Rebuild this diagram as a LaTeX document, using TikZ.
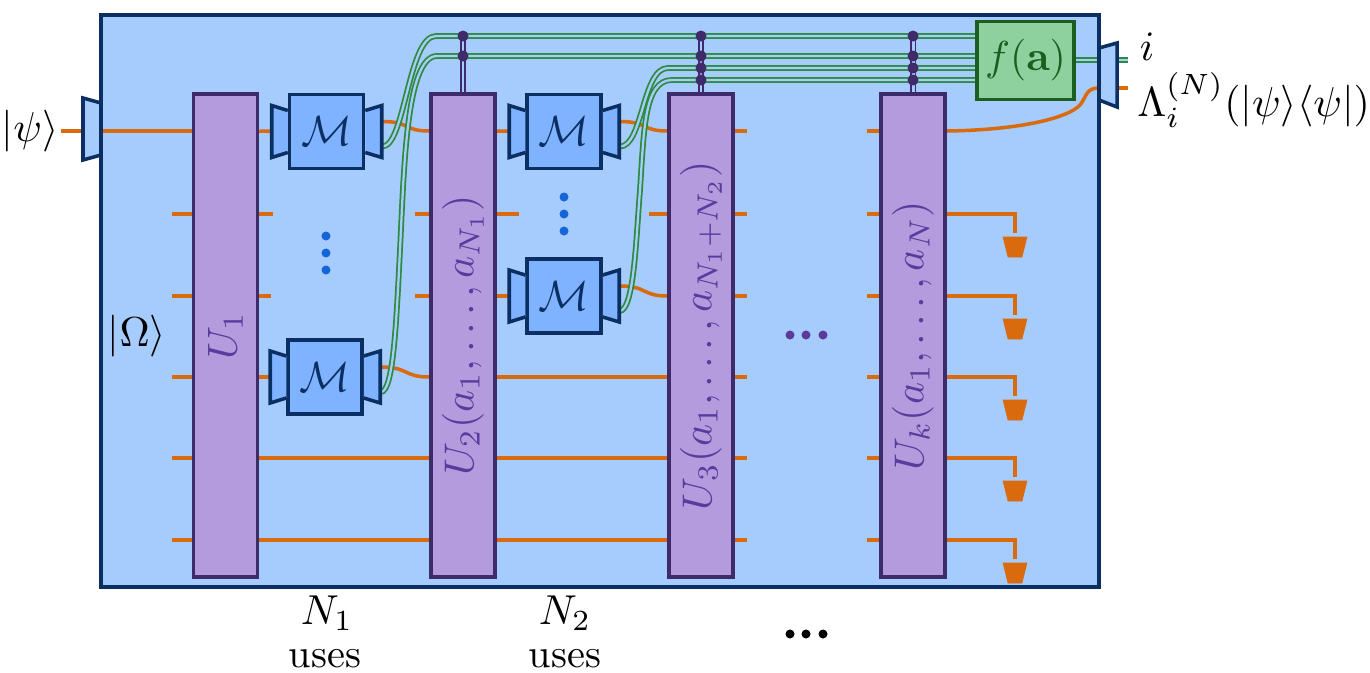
\documentclass[tikz,border=0pt]{standalone}
\usepackage{amsmath}
\usetikzlibrary{calc}
\definecolor{framecol}{HTML}{0B2F63}
\definecolor{framefill}{HTML}{A6CBFD}
\definecolor{measfill}{HTML}{80B3FF}
\definecolor{gatecol}{HTML}{3F2A6B}
\definecolor{gatefill}{HTML}{B39BDD}
\definecolor{gatetext}{HTML}{5B3A9E}
\definecolor{wirecol}{HTML}{D96A0E}
\definecolor{funcol}{HTML}{1B5E20}
\definecolor{funfill}{HTML}{8FD19E}
\definecolor{cwirecol}{HTML}{2E8B3D}
\definecolor{dotcol}{HTML}{1565D8}
\newcommand{\lbl}[1]{\scalebox{2.38}{#1}}
\newcommand{\ulbl}[1]{\rotatebox{90}{\lbl{$#1$}}}
\newcommand{\mlbl}{\scalebox{2.4}{$\mathcal{M}$}}
\pgfdeclarelayer{wirelayer}
\pgfsetlayers{wirelayer,main}
\tikzset{
	wire/.style={draw=wirecol, line width=2pt},
	cwire/.style={draw=cwirecol, line width=1pt, double=framefill, double distance=1.3pt},
	qstem/.style={draw=gatecol, line width=1.1pt, double=framefill, double distance=1.7pt},
	ugate/.style={draw=gatecol, fill=gatefill, line width=2pt, inner sep=0pt, minimum width=1.28cm, minimum height=9.66cm, text=gatetext},
	mgate/.style={draw=framecol, fill=measfill, line width=2pt, inner sep=0pt, minimum size=1.48cm, text=framecol},
	fgate/.style={draw=funcol, fill=funfill, line width=2pt, inner sep=0pt, minimum width=1.95cm, minimum height=1.56cm, text=funcol},
	wing/.style={draw=framecol, fill=measfill, line width=2pt},
	portwing/.style={draw=framecol, fill=framefill, line width=2pt},
	detector/.style={fill=wirecol, draw=wirecol, line width=0.3pt},
	txt/.style={inner sep=0pt, align=center},
}
\begin{document}
\begin{tikzpicture}[x=0.02cm, y=-0.02cm]
	\useasboundingbox (0,0) rectangle (1370,673);

	% wire heights and rails
	\foreach \n/\y in {1/131, 2/214, 3/296, 4/377, 5/458, 6/540}
		\coordinate (w\n) at (0,\y);
	\foreach \n/\y in {1/36, 2/56, 3/68, 4/80}
		\coordinate (r\n) at (0,\y);

	\node [ugate] (U1) at (225.5,335.5) {\ulbl{U_1}};
	\node [ugate] (U2) at (463,335.5) {\ulbl{U_2(a_1,\dots,a_{N_1})}};
	\node [ugate] (U3) at (701,335.5) {\ulbl{U_3(a_1,\dots,a_{N_1+N_2})}};
	\node [ugate] (Uk) at (913,335.5) {\ulbl{U_k(a_1,\dots,a_N)}};
	\node [mgate] (M1) at (326.5,131.5) {\mlbl};
	\node [mgate] (M2) at (564,131.5) {\mlbl};
	\node [mgate] (M3) at (564,296) {\mlbl};
	\node [mgate] (M4) at (325,377) {\mlbl};
	\node [fgate] (f) at (1025.5,60.5) {\lbl{$f(\mathbf{a})$}};

	\coordinate (psiin) at (61,131);
	\coordinate (portout) at (1099,88);
	\coordinate (lamout) at (1128,88);
	\coordinate (iout) at (1128,60);
	\foreach \m in {M1,M2,M3,M4} {
		\coordinate (out\m) at ($(\m.east)+(17,-10)$);
		\coordinate (c\m) at ($(\m.east)+(17,15)$);
		\draw [wing] ($(\m.west)+(0,-21)$) -- ++(-16,-5) -- ++(0,52) -- ++(16,-5);
		\draw [wing] ($(\m.east)+(0,-21)$) -- ++(16.5,-5) -- ++(0,52) -- ++(-16.5,-5);
	}

	\begin{pgfonlayer}{wirelayer}
	\fill [framefill] (101,15) rectangle (1099,587);
	% quantum wires
	\draw [wire] (psiin) -- (U1.west |- w1);
	\foreach \n in {2,...,6}
		\draw [wire] (U1.west |- w\n) -- ++(-20,0);
	\draw [wire] (U1.east |- w1) -- (M1.west);
	\draw [wire] (U1.east |- w2) -- ++(14,0);
	\draw [wire] (U1.east |- w3) -- ++(12,0);
	\draw [wire] (U1.east |- w4) -- (M4.west);
	\foreach \n in {5,6} {
		\draw [wire] (U1.east |- w\n) -- (U2.west |- w\n);
		\draw [wire] (U2.east |- w\n) -- (U3.west |- w\n);
	}
	\draw [wire] (U2.east |- w4) -- (U3.west |- w4);
	\draw [wire] (U2.east |- w1) -- (M2.west);
	\draw [wire] (U2.east |- w3) -- (M3.west);
	\draw [wire] (U2.east |- w2) -- ++(22,0);
	\foreach \n in {2,3}
		\draw [wire] (U2.west |- w\n) -- ++(-14,0);
	\draw [wire] (U3.west |- w2) -- ++(-18,0);
	\foreach \n in {1,...,6} {
		\draw [wire] (U3.east |- w\n) -- ++(12,0);
		\draw [wire] (Uk.west |- w\n) -- ++(-12,0);
	}
	\draw [wire] (outM1) .. controls +(28,0) and +(-26,0) .. (U2.west |- w1);
	\draw [wire] (outM2) .. controls +(28,0) and +(-26,0) .. (U3.west |- w1);
	\draw [wire] (outM3) .. controls +(28,0) and +(-26,0) .. (U3.west |- w3);
	\draw [wire] (outM4) .. controls +(28,0) and +(-26,0) .. (U2.west |- w4);
	\draw [wire] (Uk.east |- w1) .. controls (1020,130) and (1068,118) .. (1080,105) .. controls (1087,96) and (1086,88) .. (portout);
	\draw [wire] (portout) -- (lamout);

	% detectors
	\foreach \n/\y in {2/214, 3/296, 4/377, 5/458, 6/540} {
		\coordinate (d\n) at (1015,\y+19);
		\draw [wire] (Uk.east |- w\n) -| (d\n);
		\filldraw [detector] ($(d\n)+(-12,4)$) -- ++(24,0) -- ++(-5,20) -- ++(-14,0) -- cycle;
	}

	% classical wires
	\draw [cwire] (cM1) .. controls (405,147) and (408,36) .. (436,36) -- (f.west |- r1);
	\draw [cwire] (cM4) .. controls (393,392) and (396,330) .. (400,250) .. controls (404,170) and (406,56) .. (437,56) -- (f.west |- r2);
	\draw [cwire] (cM2) .. controls (643,147) and (642,68) .. (668,68) -- (f.west |- r3);
	\draw [cwire] (cM3) .. controls (634,310) and (636,240) .. (640,190) .. controls (644,130) and (644,80) .. (672,80) -- (f.west |- r4);
	\draw [cwire] (f.east |- 0,60) -- (iout);

	% controls on the gates
	\draw [qstem] (U2.north) -- (U2.north |- r1);
	\draw [qstem] (U3.north) -- (U3.north |- r1);
	\draw [qstem] (Uk.north) -- (Uk.north |- r1);
	\foreach \g/\n in {U2/1, U2/2, U3/1, U3/2, U3/3, U3/4, Uk/1, Uk/2, Uk/3, Uk/4}
		\fill [gatecol] (\g.north |- r\n) circle (5.5);
	\end{pgfonlayer}

	\draw [portwing] (101,103) -- (83,98) -- (83,160) -- (101,155);
	\draw [portwing] (1099,48) -- (1117,43) -- (1117,107) -- (1099,100);
	\draw [draw=framecol, line width=2pt] (101,15) rectangle (1099,587);

	% text
	\node [txt] (psi) at (30,131) {\lbl{$|\psi\rangle$}};
	\node [txt] (omega) at (137,336) {\lbl{$|\Omega\rangle$}};
	\node [txt] (ilab) at (1147,47) {\lbl{$i$}};
	\node [txt, anchor=west] (lam) at (1137,100) {\lbl{$\Lambda_i^{(N)}(|\psi\rangle\langle\psi|)$}};
	\node [txt] (n1) at (327,613) {\lbl{$N_1$}};
	\node [txt] (u1) at (325,658.5) {\scalebox{2.3}{uses}};
	\node [txt] (n2) at (565,613) {\lbl{$N_2$}};
	\node [txt] (u2) at (565,658.5) {\scalebox{2.3}{uses}};

	\foreach \y in {236,253,270}
		\fill [dotcol] (326,\y) circle (4.5);
	\foreach \y in {197,214,231}
		\fill [dotcol] (564,\y) circle (4.5);
	\foreach \x in {790,806,823} {
		\fill [gatetext] (\x,335) circle (4.5);
		\fill [black] (\x,634) circle (4.5);
	}
\end{tikzpicture}
\end{document}
